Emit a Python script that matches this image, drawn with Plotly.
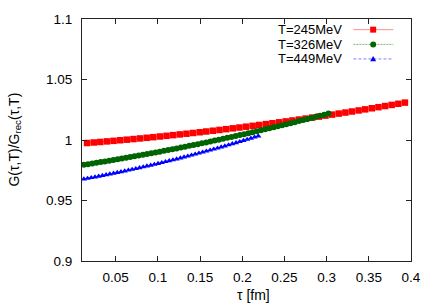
import plotly.graph_objects as go

# --- data ---
tau_245 = [0.0160, 0.0239, 0.0317, 0.0396, 0.0474, 0.0553, 0.0631, 0.0710, 0.0788, 0.0867,
           0.0945, 0.1024, 0.1102, 0.1181, 0.1259, 0.1338, 0.1416, 0.1495, 0.1573, 0.1652,
           0.1730, 0.1809, 0.1887, 0.1966, 0.2044, 0.2123, 0.2201, 0.2280, 0.2358, 0.2437,
           0.2515, 0.2594, 0.2672, 0.2751, 0.2829, 0.2908, 0.2986, 0.3065, 0.3143, 0.3222,
           0.3300, 0.3379, 0.3457, 0.3536, 0.3614, 0.3693, 0.3771, 0.3850, 0.3928]
ratio_245 = [0.99750, 0.99794, 0.99838, 0.99884, 0.99931, 0.99979, 1.00028, 1.00078, 1.00129, 1.00181,
             1.00235, 1.00289, 1.00345, 1.00402, 1.00460, 1.00519, 1.00579, 1.00640, 1.00703, 1.00766,
             1.00831, 1.00896, 1.00963, 1.01031, 1.01100, 1.01170, 1.01241, 1.01314, 1.01387, 1.01462,
             1.01537, 1.01614, 1.01692, 1.01771, 1.01851, 1.01932, 1.02015, 1.02098, 1.02183, 1.02268,
             1.02355, 1.02443, 1.02532, 1.02622, 1.02713, 1.02805, 1.02899, 1.02993, 1.03089]

tau_326 = [0.0122, 0.0172, 0.0222, 0.0272, 0.0322, 0.0372, 0.0422, 0.0472, 0.0522, 0.0572,
           0.0622, 0.0672, 0.0722, 0.0772, 0.0822, 0.0872, 0.0922, 0.0972, 0.1022, 0.1072,
           0.1122, 0.1172, 0.1222, 0.1272, 0.1322, 0.1372, 0.1422, 0.1472, 0.1522, 0.1572,
           0.1622, 0.1672, 0.1722, 0.1772, 0.1822, 0.1872, 0.1922, 0.1972, 0.2022, 0.2072,
           0.2122, 0.2172, 0.2222, 0.2272, 0.2322, 0.2372, 0.2422, 0.2472, 0.2522, 0.2572,
           0.2622, 0.2672, 0.2722, 0.2772, 0.2822, 0.2872, 0.2922, 0.2972, 0.3022]
ratio_326 = [0.97950, 0.98005, 0.98061, 0.98117, 0.98174, 0.98232, 0.98290, 0.98349, 0.98408, 0.98468,
             0.98529, 0.98590, 0.98652, 0.98715, 0.98778, 0.98842, 0.98907, 0.98972, 0.99038, 0.99104,
             0.99171, 0.99239, 0.99307, 0.99376, 0.99445, 0.99516, 0.99586, 0.99658, 0.99730, 0.99803,
             0.99876, 0.99950, 1.00025, 1.00100, 1.00176, 1.00252, 1.00329, 1.00407, 1.00485, 1.00564,
             1.00644, 1.00724, 1.00805, 1.00887, 1.00969, 1.01052, 1.01135, 1.01219, 1.01304, 1.01389,
             1.01475, 1.01562, 1.01649, 1.01737, 1.01825, 1.01914, 1.02004, 1.02094, 1.02185]

tau_449 = [0.0122, 0.0166, 0.0210, 0.0254, 0.0298, 0.0342, 0.0386, 0.0430, 0.0474, 0.0518,
           0.0562, 0.0606, 0.0650, 0.0694, 0.0738, 0.0782, 0.0826, 0.0870, 0.0914, 0.0958,
           0.1002, 0.1046, 0.1090, 0.1134, 0.1178, 0.1222, 0.1266, 0.1310, 0.1354, 0.1398,
           0.1442, 0.1486, 0.1530, 0.1574, 0.1618, 0.1662, 0.1706, 0.1750, 0.1794, 0.1838,
           0.1882, 0.1926, 0.1970, 0.2014, 0.2058, 0.2102, 0.2146, 0.2190]
ratio_449 = [0.96770, 0.96826, 0.96883, 0.96941, 0.97000, 0.97060, 0.97120, 0.97181, 0.97243, 0.97306,
             0.97370, 0.97435, 0.97501, 0.97567, 0.97634, 0.97702, 0.97771, 0.97841, 0.97912, 0.97983,
             0.98055, 0.98129, 0.98203, 0.98278, 0.98353, 0.98430, 0.98507, 0.98585, 0.98665, 0.98745,
             0.98825, 0.98907, 0.98990, 0.99073, 0.99157, 0.99242, 0.99328, 0.99415, 0.99502, 0.99591,
             0.99680, 0.99770, 0.99861, 0.99953, 1.00046, 1.00139, 1.00234, 1.00329]

series_names = ["T=245MeV", "T=326MeV", "T=449MeV"]
x_ticks = [0.05, 0.1, 0.15, 0.2, 0.25, 0.3, 0.35, 0.4]
x_tick_labels = ["0.05", "0.1", "0.15", "0.2", "0.25", "0.3", "0.35", "0.4"]
y_ticks = [0.9, 0.95, 1.0, 1.05, 1.1]
y_tick_labels = ["0.9", "0.95", "1", "1.05", "1.1"]

FONT = "Liberation Sans, Arial, sans-serif"

styles = [
    dict(mcolor="#ff0000", lcolor="#ff8c8c", dash="solid", symbol="square", size=6.5),
    dict(mcolor="#006400", lcolor="#7fb27f", dash="2px,1px", symbol="circle", size=6),
    dict(mcolor="#0000ff", lcolor="#8080ff", dash="3px,2px", symbol="triangle-up", size=5.5),
]
data = [(tau_245, ratio_245), (tau_326, ratio_326), (tau_449, ratio_449)]

fig = go.Figure()
for (xs, ys), st, name in zip(data, styles, series_names):
    fig.add_trace(go.Scatter(
        x=xs, y=ys, mode="lines+markers", name=name, showlegend=False,
        line=dict(color=st["lcolor"], width=1, dash=st["dash"]),
        marker=dict(color=st["mcolor"], symbol=st["symbol"], size=st["size"], line=dict(width=0)),
    ))

# gnuplot-style key (text right-aligned, sample to the right)
key_rows_y = [0.956, 0.895, 0.835]
shapes = []
annotations = []
for st, name, ky in zip(styles, series_names, key_rows_y):
    annotations.append(dict(x=0.795, y=ky, xref="paper", yref="paper", text=name,
                            showarrow=False, xanchor="right", yanchor="middle",
                            font=dict(family=FONT, size=13, color="black")))
    shapes.append(dict(type="line", xref="paper", yref="paper", x0=0.825, x1=0.946, y0=ky, y1=ky,
                       line=dict(color=st["lcolor"], width=1, dash=st["dash"])))
    cx = 0.885
    dx = 3.0 / 329
    dy = 3.0 / 244
    if st["symbol"] == "square":
        shapes.append(dict(type="rect", xref="paper", yref="paper", x0=cx - dx, x1=cx + dx,
                           y0=ky - dy, y1=ky + dy, fillcolor=st["mcolor"], line=dict(width=0)))
    elif st["symbol"] == "circle":
        shapes.append(dict(type="circle", xref="paper", yref="paper", x0=cx - dx, x1=cx + dx,
                           y0=ky - dy, y1=ky + dy, fillcolor=st["mcolor"], line=dict(width=0)))
    else:
        shapes.append(dict(type="path", xref="paper", yref="paper",
                           path=f"M {cx - dx} {ky - dy * 0.8} L {cx + dx} {ky - dy * 0.8} L {cx} {ky + dy} Z",
                           fillcolor=st["mcolor"], line=dict(width=0)))

annotations.append(dict(x=0.52, y=-0.139, xref="paper", yref="paper", text="τ [fm]",
                        showarrow=False, xanchor="center", yanchor="middle",
                        font=dict(family=FONT, size=14, color="black")))
annotations.append(dict(x=-0.205, y=0.5, xref="paper", yref="paper",
                        text="G(τ,T)/G<sub>rec</sub>(τ,T)", textangle=-90,
                        showarrow=False, xanchor="center", yanchor="middle",
                        font=dict(family=FONT, size=14, color="black")))

axis_common = dict(showgrid=False, zeroline=False, showline=True, linecolor="#222", linewidth=1,
                   mirror="ticks", ticks="inside", ticklen=5, tickcolor="#222", tickwidth=1,
                   tickfont=dict(family=FONT, size=13.5, color="black"))

fig.update_layout(
    width=436, height=305,
    margin=dict(l=82, r=25, t=17, b=44),
    paper_bgcolor="white", plot_bgcolor="white",
    showlegend=False,
    xaxis=dict(range=[0.01, 0.4], tickvals=x_ticks, ticktext=x_tick_labels,
               ticklabelstandoff=4, **axis_common),
    yaxis=dict(range=[0.9, 1.1], tickvals=y_ticks, ticktext=y_tick_labels,
               ticklabelstandoff=6, **axis_common),
    shapes=shapes, annotations=annotations,
)

fig.write_html("out.html", config={"displayModeBar": False},
               post_script="document.body.style.margin='0';document.body.style.overflow='hidden';")
